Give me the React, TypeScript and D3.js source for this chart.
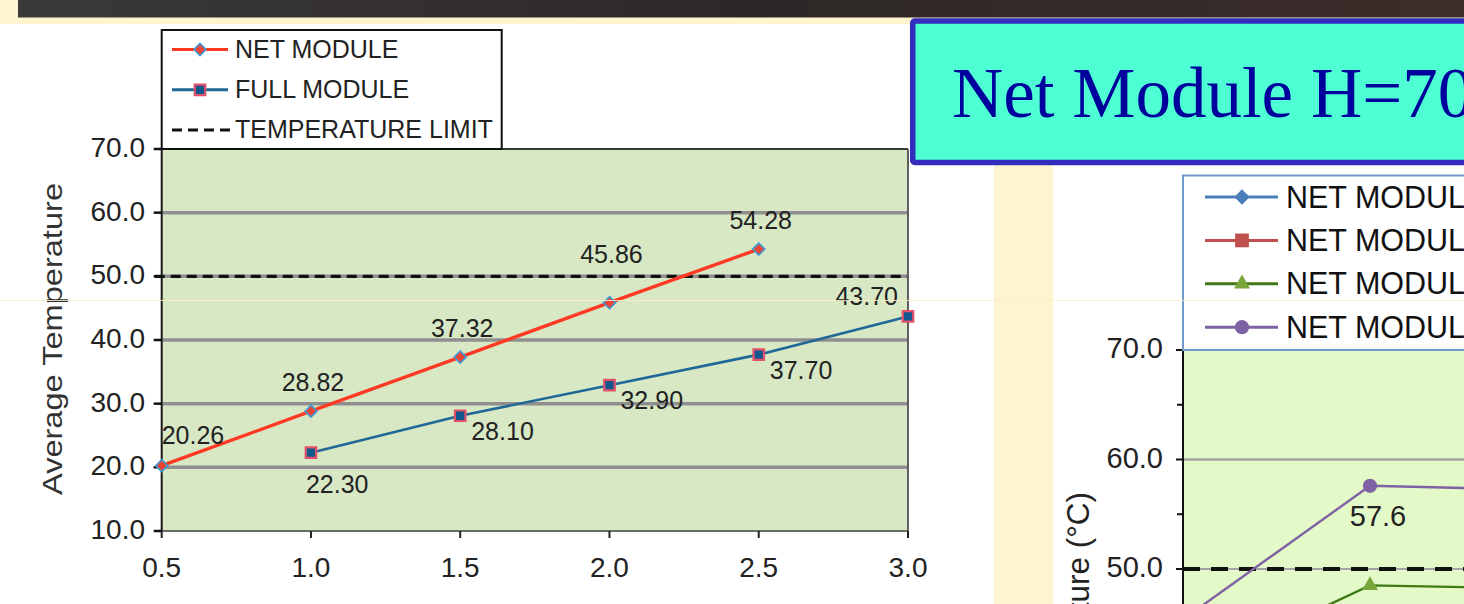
import React, { useEffect } from "react";
import * as d3 from "d3";

// ---- left chart data ----
const X_TICKS = [0.5, 1.0, 1.5, 2.0, 2.5, 3.0];
const Y_TICKS = [10, 20, 30, 40, 50, 60, 70];
const NET_X = [0.5, 1.0, 1.5, 2.0, 2.5];
const NET_Y = [20.26, 28.82, 37.32, 45.86, 54.28];
const FULL_X = [1.0, 1.5, 2.0, 2.5, 3.0];
const FULL_Y = [22.3, 28.1, 32.9, 37.7, 43.7];
const TEMP_LIMIT = 50;
const LEFT_LEGEND = ["NET MODULE", "FULL MODULE", "TEMPERATURE LIMIT"];
const NET_LABEL_POS = ["above-right", "above", "above", "above", "above"];
const FULL_LABEL_POS = ["below", "right", "right", "right", "above-left"];

// ---- right chart data ----
const R_Y_TICKS = [50, 60, 70];
const R_Y_MINOR = [55, 65];
const R_X = [0.5, 1.0, 1.5];
const R_PURPLE = [45.4, 57.6, 57.2];
const R_GREEN = [40.5, 48.5, 48.2];
const R_LEGEND = ["NET MODULE", "NET MODULE", "NET MODULE", "NET MODULE"];
const R_COLORS = ["#4a7ebb", "#c0504d", "#3f7a17", "#7f62a3"];
const R_MARKER_FILL = ["#4a7ebb", "#c0504d", "#79a63c", "#7f62a3"];

const TITLE = "Net Module H=700mm";

const SANS = "'Liberation Sans', Arial, Helvetica, sans-serif";
const SERIF = "'Liberation Serif', 'Times New Roman', serif";

const fmt1 = d3.format(".1f");
const fmt2 = d3.format(".2f");

const diamondType: any = (d3 as any).symbolDiamond2 || d3.symbolDiamond;

const labelOffsets: Record<string, { anchor: string; dx: number; dy: number }> = {
  "above-right": { anchor: "start", dx: 0, dy: -22 },
  above: { anchor: "middle", dx: 2, dy: -20 },
  below: { anchor: "start", dx: -5, dy: 40 },
  right: { anchor: "start", dx: 11, dy: 24 },
  "above-left": { anchor: "end", dx: -10, dy: -11 },
};

export default function App() {
  useEffect(() => {
    document.body.style.margin = "0";
  }, []);

  const W = 1464;
  const H = 604;

  // left chart scales
  const x = d3.scaleLinear().domain([0.5, 3.0]).range([161.7, 908]);
  const y = d3.scaleLinear().domain([10, 70]).range([531, 149]);
  const limitY = y(TEMP_LIMIT);

  const netPts = NET_X.map((v, i) => [x(v), y(NET_Y[i])] as [number, number]);
  const fullPts = FULL_X.map((v, i) => [x(v), y(FULL_Y[i])] as [number, number]);
  const line = d3.line<[number, number]>();

  // right chart scales
  const rx = d3.scaleLinear().domain([0.5, 1.0]).range([1183, 1370]);
  const ry = d3.scaleLinear().domain([50, 70]).range([569, 350]);
  const purplePts = R_X.map((v, i) => [rx(v), ry(R_PURPLE[i])] as [number, number]);
  const greenPts = R_X.map((v, i) => [rx(v), ry(R_GREEN[i])] as [number, number]);

  const diamond = d3.symbol().type(diamondType).size(92)();
  const square = d3.symbol().type(d3.symbolSquare).size(110)();
  const rDiamond = d3.symbol().type(diamondType).size(150)();
  const rSquare = d3.symbol().type(d3.symbolSquare).size(190)();
  const rTriangle = d3.symbol().type(d3.symbolTriangle).size(110)();
  const rCircle = d3.symbol().type(d3.symbolCircle).size(160)();
  const rMarkers = [rDiamond, rSquare, rTriangle, rCircle];

  const plotL = x.range()[0];
  const plotR = x.range()[1];
  const plotT = y(70);
  const plotB = y(10);

  const placeNet = (i: number) => {
    const o = labelOffsets[NET_LABEL_POS[i]];
    const [px, py] = netPts[i];
    let by = py + o.dy;
    if (NET_LABEL_POS[i] === "above" && by > limitY - 2 && by < limitY + 20) by = limitY - 13;
    return { x: px + o.dx, y: by, anchor: o.anchor };
  };
  const placeFull = (i: number) => {
    const o = labelOffsets[FULL_LABEL_POS[i]];
    const [px, py] = fullPts[i];
    return { x: px + o.dx, y: py + o.dy, anchor: o.anchor };
  };

  const rPlotL = rx(0.5);

  return (
    <svg
      width={W}
      height={H}
      viewBox={`0 0 ${W} ${H}`}
      style={{ display: "block", position: "absolute", left: 0, top: 0 }}
    >
      <defs>
        <linearGradient id="topbar" x1="0" x2="1" y1="0" y2="0">
          <stop offset="0" stopColor="#3b3a39" />
          <stop offset="0.5" stopColor="#2c2827" />
          <stop offset="1" stopColor="#3d2d2a" />
        </linearGradient>
        <clipPath id="rclip">
          <rect x={rPlotL} y={ry(70)} width={W - rPlotL} height={H - ry(70)} />
        </clipPath>
      </defs>

      {/* slide background */}
      <rect x={0} y={0} width={W} height={H} fill="#fef4d0" />
      <rect x={0} y={24} width={994} height={H - 24} fill="#ffffff" />
      <rect x={1053} y={160} width={W - 1053} height={H - 160} fill="#ffffff" />
      <rect x={18} y={0} width={W - 18} height={17.5} fill="url(#topbar)" />

      {/* ===== left chart ===== */}
      <rect x={plotL} y={plotT} width={plotR - plotL} height={plotB - plotT} fill="#d8e8c5" />
      {Y_TICKS.filter((t) => t !== 10 && t !== 70).map((t) => (
        <line key={"g" + t} x1={plotL} x2={plotR} y1={y(t)} y2={y(t)} stroke="#8f8f8f" strokeWidth={3.5} />
      ))}
      <line
        x1={plotL - 7}
        x2={plotR}
        y1={limitY}
        y2={limitY}
        stroke="#111"
        strokeWidth={3.2}
        strokeDasharray="10 6"
      />
      {/* plot frame */}
      <line x1={plotL} x2={plotR} y1={plotT} y2={plotT} stroke="#3a3a3a" strokeWidth={2} />
      <line x1={plotL} x2={plotR} y1={plotB} y2={plotB} stroke="#6a6a6a" strokeWidth={2} />
      <line x1={plotR} x2={plotR} y1={plotT} y2={plotB + 7} stroke="#5f5f5f" strokeWidth={2} />
      <line x1={plotL} x2={plotL} y1={plotT} y2={plotB} stroke="#1a1a1a" strokeWidth={2} />
      {/* y ticks & labels */}
      {Y_TICKS.map((t) => (
        <g key={"yt" + t}>
          <line x1={plotL - 8} x2={plotL} y1={y(t)} y2={y(t)} stroke="#111" strokeWidth={2.5} />
          <text x={145} y={y(t) + 8} textAnchor="end" fontFamily={SANS} fontSize={28} fill="#222">
            {fmt1(t)}
          </text>
        </g>
      ))}
      {/* x ticks & labels */}
      {X_TICKS.map((t) => (
        <g key={"xt" + t}>
          <line x1={x(t)} x2={x(t)} y1={plotB} y2={plotB + 7} stroke="#222" strokeWidth={2} />
          <text x={x(t)} y={577} textAnchor="middle" fontFamily={SANS} fontSize={28} fill="#222">
            {fmt1(t)}
          </text>
        </g>
      ))}
      <text
        transform={`translate(62,339) rotate(-90)`}
        textAnchor="middle"
        fontFamily={SANS}
        fontSize={28}
        fill="#333"
        textLength={312}
        lengthAdjust="spacingAndGlyphs"
      >
        Average Temperature
      </text>

      {/* series lines */}
      <path d={line(fullPts) || ""} fill="none" stroke="#1f6897" strokeWidth={2.6} />
      <path d={line(netPts) || ""} fill="none" stroke="#ff3a24" strokeWidth={3.4} />
      {fullPts.map(([px, py], i) => (
        <path
          key={"fm" + i}
          d={square || ""}
          transform={`translate(${px},${py})`}
          fill="#13588c"
          stroke="#e4506a"
          strokeWidth={2.2}
        />
      ))}
      {netPts.map(([px, py], i) => (
        <path
          key={"nm" + i}
          d={diamond || ""}
          transform={`translate(${px},${py})`}
          fill="#ee4434"
          stroke="#3c9ad8"
          strokeWidth={1.6}
        />
      ))}
      {/* data labels */}
      {NET_Y.map((v, i) => {
        const p = placeNet(i);
        return (
          <text key={"nl" + i} x={p.x} y={p.y} textAnchor={p.anchor as any} fontFamily={SANS} fontSize={25} fill="#222">
            {fmt2(v)}
          </text>
        );
      })}
      {FULL_Y.map((v, i) => {
        const p = placeFull(i);
        return (
          <text key={"fl" + i} x={p.x} y={p.y} textAnchor={p.anchor as any} fontFamily={SANS} fontSize={25} fill="#222">
            {fmt2(v)}
          </text>
        );
      })}

      {/* legend */}
      <rect x={161.7} y={30} width={340} height={plotT - 30} fill="#fff" stroke="#111" strokeWidth={2} />
      {LEFT_LEGEND.map((name, i) => {
        const ly = 49.5 + i * 40.3;
        return (
          <g key={"lg" + i}>
            {i === 0 && (
              <>
                <line x1={172} x2={228} y1={ly} y2={ly} stroke="#ff3a24" strokeWidth={3} />
                <path d={diamond || ""} transform={`translate(200,${ly})`} fill="#ee4434" stroke="#3c9ad8" strokeWidth={1.6} />
              </>
            )}
            {i === 1 && (
              <>
                <line x1={172} x2={228} y1={ly} y2={ly} stroke="#1f6897" strokeWidth={3} />
                <path d={square || ""} transform={`translate(200,${ly})`} fill="#13588c" stroke="#e4506a" strokeWidth={2.2} />
              </>
            )}
            {i === 2 && (
              <line x1={172} x2={230} y1={ly} y2={ly} stroke="#111" strokeWidth={3} strokeDasharray="10 6" />
            )}
            <text x={235} y={ly + 8} fontFamily={SANS} fontSize={25} fill="#222">
              {name}
            </text>
          </g>
        );
      })}

      {/* ===== right chart ===== */}
      <rect x={rPlotL} y={ry(70)} width={W - rPlotL} height={H - ry(70)} fill="#e4f9c8" />
      <g clipPath="url(#rclip)">
        <line x1={rPlotL} x2={W} y1={ry(60)} y2={ry(60)} stroke="#a3a3a3" strokeWidth={2.5} />
        <line x1={rPlotL} x2={W} y1={ry(50)} y2={ry(50)} stroke="#a3a3a3" strokeWidth={2} />
        <line
          x1={rPlotL}
          x2={W}
          y1={ry(50)}
          y2={ry(50)}
          stroke="#111"
          strokeWidth={4}
          strokeDasharray="17 11"
        />
        <path d={line(greenPts) || ""} fill="none" stroke={R_COLORS[2]} strokeWidth={2.4} />
        <path d={line(purplePts) || ""} fill="none" stroke={R_COLORS[3]} strokeWidth={2.4} />
        {greenPts.map(([px, py], i) => (
          <path key={"gm" + i} d={rTriangle || ""} transform={`translate(${px},${py})`} fill={R_MARKER_FILL[2]} />
        ))}
        {purplePts.map(([px, py], i) => (
          <path key={"pm" + i} d={rCircle || ""} transform={`translate(${px},${py})`} fill={R_MARKER_FILL[3]} />
        ))}
        <text
          x={purplePts[1][0] + 8}
          y={purplePts[1][1] + 40}
          textAnchor="middle"
          fontFamily={SANS}
          fontSize={29}
          fill="#222"
        >
          {fmt1(R_PURPLE[1])}
        </text>
      </g>
      {/* right axis */}
      <line x1={rPlotL} x2={rPlotL} y1={ry(70)} y2={H} stroke="#111" strokeWidth={2} />
      {R_Y_TICKS.map((t) => (
        <g key={"ryt" + t}>
          <line x1={rPlotL - 7} x2={rPlotL} y1={ry(t)} y2={ry(t)} stroke="#111" strokeWidth={2} />
          <text x={1163} y={ry(t) + 8} textAnchor="end" fontFamily={SANS} fontSize={29} fill="#222">
            {fmt1(t)}
          </text>
        </g>
      ))}
      {R_Y_MINOR.map((t) => (
        <line key={"rym" + t} x1={rPlotL - 6} x2={rPlotL} y1={ry(t)} y2={ry(t)} stroke="#111" strokeWidth={2} />
      ))}
      <text
        transform={`translate(1089,492) rotate(-90)`}
        textAnchor="end"
        fontFamily={SANS}
        fontSize={31.5}
        fill="#222"
      >
        Average Temperature (°C)
      </text>
      {/* right legend */}
      <rect x={rPlotL} y={175.5} width={W - rPlotL + 10} height={ry(70) - 175.5} fill="#fff" stroke="#6f9acb" strokeWidth={2} />
      {R_LEGEND.map((name, i) => {
        const ly = 197 + i * 43.4;
        return (
          <g key={"rl" + i}>
            <line x1={1205} x2={1278} y1={ly} y2={ly} stroke={R_COLORS[i]} strokeWidth={3} />
            <path d={rMarkers[i] || ""} transform={`translate(1242,${ly})`} fill={R_MARKER_FILL[i]} />
            <text x={1286} y={ly + 10.5} fontFamily={SANS} fontSize={30.5} fill="#111">
              {name}
            </text>
          </g>
        );
      })}

      {/* title box */}
      <rect x={912.75} y={21} width={W} height={141.5} rx={2} fill="#4dffd3" stroke="#322dbe" strokeWidth={5.5} />
      <text x={952} y={117} fontFamily={SERIF} fontSize={71} fill="#00009c">
        {TITLE}
      </text>

      {/* thin slide seam */}
      <line x1={0} x2={W} y1={300.5} y2={300.5} stroke="#fdf0c4" strokeWidth={1} opacity={0.85} />
    </svg>
  );
}
